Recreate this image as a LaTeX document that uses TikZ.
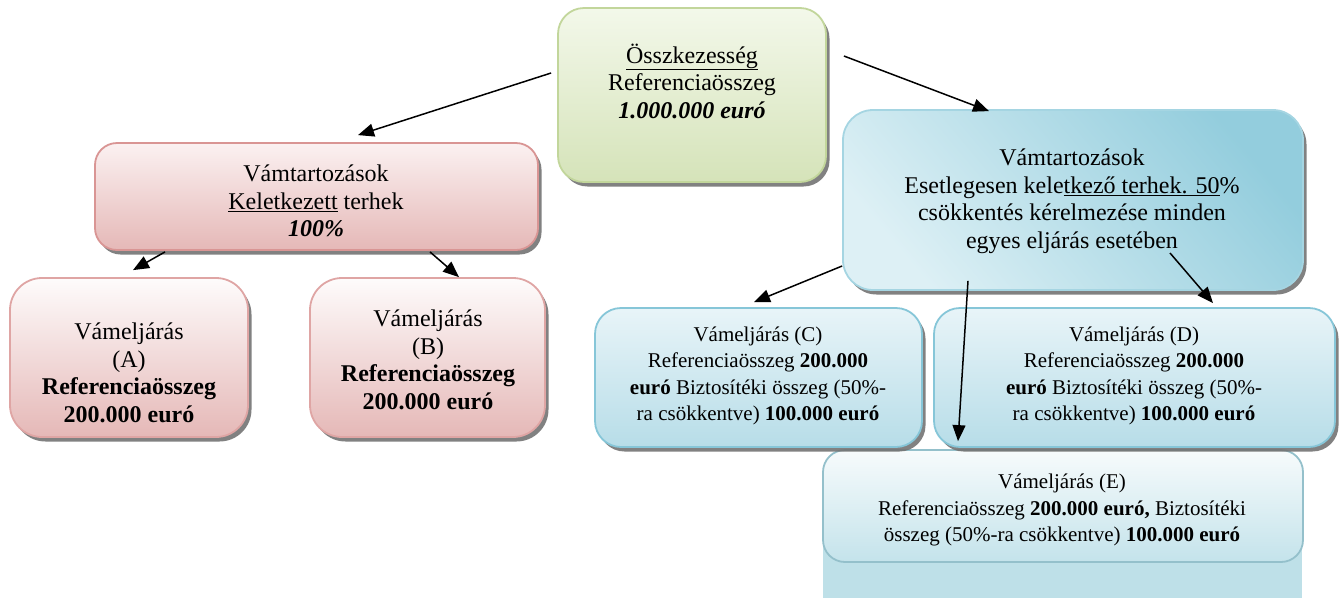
\documentclass[tikz,border=0pt]{standalone}
\usepackage{fontspec}
\setmainfont{Liberation Serif}
\usetikzlibrary{arrows.meta,calc,shadows}
\definecolor{gLine}{HTML}{C2D69B}
\definecolor{gTop}{HTML}{F3F8EA}
\definecolor{gBot}{HTML}{D5E3B9}
\definecolor{pLine}{HTML}{D99594}
\definecolor{pTop}{HTML}{FBF1F1}
\definecolor{pBot}{HTML}{E5B8B7}
\definecolor{bLine}{HTML}{A5D5E2}
\definecolor{bLight}{HTML}{DDF0F5}
\definecolor{bDark}{HTML}{93CDDD}
\definecolor{cLine}{HTML}{86C6D8}
\definecolor{cTop}{HTML}{E8F4F8}
\definecolor{cBot}{HTML}{B7DDE8}
\definecolor{eTop}{HTML}{F7FBFC}
\definecolor{eBot}{HTML}{C4E3EB}
\definecolor{eExt}{HTML}{BEE0E8}
\begin{document}
\begin{tikzpicture}[x=1pt,y=-1pt,
  box/.style={draw, line width=1.8pt, rounded corners=#1, inner sep=0pt,
    drop shadow={shadow xshift=3.5pt,shadow yshift=-4.5pt,fill=black!55,opacity=0.9}},
  flatbox/.style={draw, line width=1.8pt, rounded corners=#1, inner sep=0pt},
  bigtxt/.style={align=center, inner sep=0pt, font=\fontsize{24}{27.5}\selectfont},
  smalltxt/.style={align=center, inner sep=0pt, font=\fontsize{21}{26.5}\selectfont},
  arr/.style={line width=1.5pt, -{Triangle[length=16pt,width=13pt]}}]
\useasboundingbox (0,0) rectangle (1343,598);

% top green box
\node[box=26pt, draw=gLine, top color=gTop, bottom color=gBot,
  minimum width=268pt, minimum height=174pt] (g) at (692,95) {};
% pink left header
\node[box=22pt, draw=pLine, top color=pTop, bottom color=pBot,
  minimum width=443pt, minimum height=107pt] (pL) at (316.5,196.5) {};
% A and B
\node[box=32pt, draw=pLine!85, top color=white!95!pBot, bottom color=pBot,
  minimum width=238pt, minimum height=159pt] (pA) at (129,357.5) {};
\node[box=32pt, draw=pLine!85, top color=white!95!pBot, bottom color=pBot,
  minimum width=235pt, minimum height=159pt] (pB) at (427.5,357.5) {};
% big blue box
\node[box=30pt, draw=bLine, left color=bLight, right color=bDark, shading angle=130,
  minimum width=460pt, minimum height=180pt] (bB) at (1073,200) {};
% E box with its extension
\fill[eExt] (823,520) rectangle (1302,598);
\node[flatbox=22pt, draw=bLine!90!black, top color=eTop, bottom color=eBot,
  minimum width=480pt, minimum height=112pt] (bE) at (1063,506) {};
% C and D
\node[box=26pt, draw=cLine, top color=cTop, bottom color=cBot,
  minimum width=327pt, minimum height=139pt] (bC) at (758.5,377.5) {};
\node[box=26pt, draw=cLine, top color=cTop, bottom color=cBot,
  minimum width=401pt, minimum height=139pt] (bD) at (1134.5,377.5) {};

% texts
\node[bigtxt] (gt) at (692,81) {\underline{Összkezesség}\\Referenciaösszeg\\\textbf{\textit{1.000.000 euró}}};
\node[bigtxt] (pLt) at (316,201) {Vámtartozások\\\underline{Keletkezett} terhek\\\textbf{\textit{100\%}}};
\node[bigtxt] (pAt) at (129,373) {Vámeljárás\\(A)\\\textbf{Referenciaösszeg}\\\textbf{200.000 euró}};
\node[bigtxt] (pBt) at (428,360) {Vámeljárás\\(B)\\\textbf{Referenciaösszeg}\\\textbf{200.000 euró}};
\node[bigtxt] (bBt) at (1072,201) {Vámtartozások\\Esetlegesen kele\underline{tkező terhek. 50}\%\\csökkentés kérelmezése minden\\egyes eljárás esetében};
\node[smalltxt] (bCt) at (758,376) {Vámeljárás (C)\\Referenciaösszeg \textbf{200.000}\\\textbf{euró} Biztosítéki összeg (50\%-\\ra csökkentve) \textbf{100.000 euró}};
\node[smalltxt] (bDt) at (1134,376) {Vámeljárás (D)\\Referenciaösszeg \textbf{200.000}\\\textbf{euró} Biztosítéki összeg (50\%-\\ra csökkentve) \textbf{100.000 euró}};
\node[smalltxt] (bEt) at (1062,510) {Vámeljárás (E)\\Referenciaösszeg \textbf{200.000 euró,} Biztosítéki\\összeg (50\%-ra csökkentve) \textbf{100.000 euró}};

% connectors
\draw[arr] ($(g.west)+(-6,-22)$) -- ($(pL.north)+(41.5,-7)$);
\draw[arr] ($(g.east)+(17,-39)$) -- ($(bB.north)+(-84,2)$);
\draw[arr] ($(pL.south)+(-151.5,1)$) -- ($(pA.north)+(4,-7)$);
\draw[arr] ($(pL.south)+(113.5,1)$) -- ($(pB.north)+(31.5,0)$);
\draw[arr] ($(bB.west)+(0,66)$) -- ($(bC.north)+(-4.5,-5)$);
\draw[arr] ($(bB.center)+(97,53)$) -- ($(bD.north)+(78.5,-4)$);
\draw[arr] ($(bB.south)+(-105,-10)$) -- ($(bE.north)+(-105,-8)$);
\end{tikzpicture}
\end{document}
